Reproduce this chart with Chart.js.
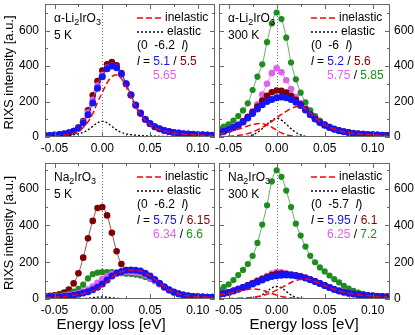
<!DOCTYPE html>
<html>
<head>
<meta charset="utf-8">
<script src="https://cdn.jsdelivr.net/npm/chart.js@4/dist/chart.umd.min.js"></script>
<style>
	body { margin: 0; background: #fff; }
	#wrap { position: relative; width: 415px; height: 335px; }
	canvas { position: absolute; left: 0; top: 0; }
</style>
</head>
<body>
<div id="wrap">
	<canvas id="tl" width="415" height="335"></canvas>
	<canvas id="tr" width="415" height="335"></canvas>
	<canvas id="bl" width="415" height="335"></canvas>
	<canvas id="br" width="415" height="335"></canvas>
</div>
<script>
// energy loss grid [eV]
const energy = [-0.06,-0.055,-0.05,-0.045,-0.04,-0.035,-0.03,-0.025,-0.02,-0.015,
	-0.01,-0.005,0,0.005,0.01,0.015,0.02,0.025,0.03,0.035,
	0.04,0.045,0.05,0.055,0.06,0.065,0.07,0.075,0.08,0.085,
	0.09,0.095,0.1,0.105,0.11,0.115];

const xTicks = [-0.05, 0, 0.05, 0.10];
const xMinorTicks = [-0.025, 0.025, 0.075];
const yTicks = [0, 200, 400, 600];
const yMinorTicks = [100, 300, 500, 700];

// alpha-Li2IrO3, 5 K
const li5K_51  = [8,9,11,14,18,24,33,50,80,125,192,275,340,385,400,390,355,300,238,180,135,100,76,58,46,37,31,26,22,19,17,15,13,12,11,10];
const li5K_55  = [8,9,11,13,17,23,34,55,90,150,235,315,375,410,422,405,360,300,235,178,132,98,74,57,45,36,30,25,21,18,16,14,13,12,11,10];
const li5K_565 = [8,9,11,14,18,24,34,52,85,138,210,290,350,390,402,392,355,300,238,180,135,100,76,58,46,37,31,26,22,19,17,15,13,12,11,10];
const li5K_el  = [4,5,6,7,8,10,13,18,26,40,60,80,88,80,60,40,26,18,13,10,8,7,6,5,4,4,3,3,3,2,2,2,2,2,2,2];
const li5K_inel = [4,4,5,7,10,14,20,32,54,85,132,195,252,305,340,350,329,282,225,170,127,93,70,53,42,33,28,23,19,17,15,13,11,10,9,8];

// alpha-Li2IrO3, 300 K
const li300K_52  = [25,32,42,53,66,85,107,132,158,182,200,212,222,226,222,212,196,177,152,126,102,82,66,53,43,35,29,24,20,17,15,13,12,11,10,9];
const li300K_56  = [25,32,42,54,68,88,112,140,172,205,232,252,262,260,250,232,210,185,156,128,104,83,67,54,44,36,30,25,21,18,16,14,12,11,10,9];
const li300K_575 = [26,33,43,55,70,90,115,145,185,240,300,360,388,365,320,270,225,190,160,130,106,85,68,55,45,37,30,25,21,18,16,14,13,12,11,10];
const li300K_585 = [47,58,72,92,118,150,190,265,340,410,535,640,702,665,560,420,325,250,195,150,118,92,73,59,48,39,32,27,23,19,17,15,13,12,11,10];
const li300K_el  = [0,0,0,0,0,1,4,12,26,47,72,95,105,95,72,47,26,12,4,1,0,0,0,0,0,0,0,0,0,0,0,0,0,0,0,0];
const li300K_stokes = [2,3,4,6,9,13,19,28,40,55,70,88,107,127,145,160,170,172,160,135,110,88,70,56,45,36,30,25,21,18,15,13,12,11,10,9];
const li300K_anti = [18,23,29,36,44,53,62,70,75,75,68,55,38,23,13,7,4,2,1,0,0,0,0,0,0,0,0,0,0,0,0,0,0,0,0,0];

// Na2IrO3, 5 K
const na5K_575 = [8,9,10,12,14,17,21,26,32,40,50,64,82,103,125,140,150,156,158,157,152,140,125,106,86,66,50,38,28,22,17,14,12,11,10,9];
const na5K_615 = [15,17,20,25,35,52,85,140,225,330,425,495,500,455,360,260,190,158,152,152,148,138,122,102,82,63,48,36,27,21,17,15,13,12,11,10];
const na5K_634 = [9,10,12,14,17,21,25,32,40,52,68,88,108,125,137,144,147,148,147,145,140,130,116,99,80,62,47,36,27,21,17,14,12,11,10,9];
const na5K_66  = [12,13,15,18,23,30,40,55,78,112,135,143,146,147,146,143,140,138,136,133,128,120,110,97,82,66,51,39,30,23,18,15,13,12,11,10];
const na5K_el  = [0,0,0,0,0,0,0,1,2,4,7,10,11,10,7,4,2,1,0,0,0,0,0,0,0,0,0,0,0,0,0,0,0,0,0,0];
const na5K_inel = [8,9,10,12,14,17,21,25,30,36,43,54,71,93,118,136,148,155,158,157,152,140,125,106,86,66,50,38,28,22,17,14,12,11,10,9];

// Na2IrO3, 300 K
const na300K_595 = [25,30,36,44,53,62,72,82,93,104,114,122,127,129,130,129,126,121,114,105,95,84,73,62,52,44,37,31,27,23,20,18,16,14,13,12];
const na300K_61  = [26,31,37,45,54,64,74,85,97,109,120,130,137,138,136,132,128,122,115,106,96,85,74,63,53,45,38,32,27,23,20,18,16,14,13,12];
const na300K_625 = [26,31,38,46,55,65,76,88,101,113,125,138,146,145,140,134,129,123,115,106,96,85,74,63,53,45,38,32,27,23,20,18,16,14,13,12];
const na300K_72  = [50,65,80,103,130,158,190,235,305,405,510,640,700,665,590,500,410,345,285,235,200,172,150,128,108,90,72,57,44,35,28,23,20,17,15,13];
const na300K_el  = [0,0,0,0,0,0,1,3,9,22,41,60,68,60,41,22,9,3,1,0,0,0,0,0,0,0,0,0,0,0,0,0,0,0,0,0];
const na300K_stokes = [2,2,3,3,4,5,7,10,13,18,26,36,48,62,76,90,101,108,110,105,95,84,73,62,52,44,37,31,27,23,20,18,16,14,13,12];
const na300K_anti = [22,26,31,37,43,48,52,54,53,48,40,30,21,14,9,6,4,3,2,1,1,0,0,0,0,0,0,0,0,0,0,0,0,0,0,0];

const BLUE = '#1414f5';
const DRED = '#800000';
const MAG = '#e060f0';
const GREEN = '#1e8c1e';
const FONT = '"Liberation Sans", Arial, sans-serif';

function points(values) {
	return energy.map((x, i) => ({ x: x, y: values[i] }));
}

function measured(values, color, r) {
	return {
		data: points(values),
		showLine: true,
		borderColor: color + 'b0',
		borderWidth: 1,
		backgroundColor: color,
		pointRadius: r,
		pointBorderWidth: 0,
		pointBackgroundColor: color,
		tension: 0.4
	};
}

function fitLine(values, kind) {
	return {
		data: points(values),
		showLine: true,
		borderColor: kind == 'inel' ? '#ff0000' : '#000000',
		borderDash: kind == 'inel' ? [6, 3] : [2, 2],
		borderWidth: kind == 'inel' ? 1.5 : 1.3,
		pointRadius: 0,
		tension: 0.4
	};
}

function sampleName(mat) {
	if (mat == 'li') return [{ t: 'α-Li' }, { t: '2', sub: true }, { t: 'IrO' }, { t: '3', sub: true }];
	return [{ t: 'Na' }, { t: '2', sub: true }, { t: 'IrO' }, { t: '3', sub: true }];
}

function drawParts(ctx, x, y, parts) {
	ctx.textAlign = 'left';
	ctx.textBaseline = 'middle';
	for (const p of parts) {
		ctx.font = (p.it ? 'italic ' : '') + (p.sub ? '9px ' : '12px ') + FONT;
		ctx.fillStyle = p.c || '#000';
		ctx.fillText(p.t, x, y + (p.sub ? 4 : 0));
		x += ctx.measureText(p.t).width;
	}
}

const panels = [
	{
		id: 'tl', area: [45, 1, 215, 137], yMax: 750, ySide: 'left',
		mat: 'li', temp: '5 K', q: '-6.2',
		row1: [['5.1', BLUE], ['5.5', DRED]], row2: [['5.65', MAG]],
		datasets: [
			fitLine(li5K_inel, 'inel'), fitLine(li5K_el, 'el'),
			measured(li5K_51, BLUE, 3.5), measured(li5K_565, MAG, 3.3), measured(li5K_55, DRED, 3.3)
		],
		yTitle: true
	},
	{
		id: 'tr', area: [219, 1, 390, 137], yMax: 750, ySide: 'right',
		mat: 'li', temp: '300 K', q: '-6',
		row1: [['5.2', BLUE], ['5.6', DRED]], row2: [['5.75', MAG], ['5.85', GREEN]],
		datasets: [
			fitLine(li300K_stokes, 'inel'), fitLine(li300K_anti, 'inel'), fitLine(li300K_el, 'el'),
			measured(li300K_52, BLUE, 3.5), measured(li300K_56, DRED, 3.3),
			measured(li300K_575, MAG, 3.3), measured(li300K_585, GREEN, 3.1)
		]
	},
	{
		id: 'bl', area: [45, 163, 215, 299], yMax: 740, ySide: 'left',
		mat: 'na', temp: '5 K', q: '-6.2',
		row1: [['5.75', BLUE], ['6.15', DRED]], row2: [['6.34', MAG], ['6.6', GREEN]],
		datasets: [
			fitLine(na5K_inel, 'inel'), fitLine(na5K_el, 'el'),
			measured(na5K_575, BLUE, 3.5), measured(na5K_634, MAG, 3.3),
			measured(na5K_66, GREEN, 3.1), measured(na5K_615, DRED, 3.3)
		],
		yTitle: true, xTitle: 111
	},
	{
		id: 'br', area: [219, 163, 390, 299], yMax: 740, ySide: 'right',
		mat: 'na', temp: '300 K', q: '-5.7',
		row1: [['5.95', BLUE], ['6.1', DRED]], row2: [['6.25', MAG], ['7.2', GREEN]],
		datasets: [
			fitLine(na300K_stokes, 'inel'), fitLine(na300K_anti, 'inel'), fitLine(na300K_el, 'el'),
			measured(na300K_595, BLUE, 3.5), measured(na300K_61, DRED, 3.3),
			measured(na300K_625, MAG, 3.3), measured(na300K_72, GREEN, 3.1)
		],
		xTitle: 304
	}
];

// frame, inner ticks, tick labels, zero line and the annotations
const decor = {
	id: 'decor',
	beforeDatasetsDraw(chart) {
		const ctx = chart.ctx, a = chart.chartArea;
		const x0 = Math.round(chart.scales.x.getPixelForValue(0)) + 0.5;
		ctx.save();
		ctx.strokeStyle = '#777';
		ctx.lineWidth = 1;
		ctx.setLineDash([1, 2]);
		ctx.beginPath();
		ctx.moveTo(x0, a.top);
		ctx.lineTo(x0, a.bottom);
		ctx.stroke();
		ctx.restore();
	},
	afterDraw(chart) {
		const p = chart.options.plugins.decor.panel;
		const ctx = chart.ctx, a = chart.chartArea;
		const xs = chart.scales.x, ys = chart.scales.y;
		ctx.save();
		ctx.strokeStyle = '#666';
		ctx.lineWidth = 1;
		ctx.strokeRect(a.left + 0.5, a.top + 0.5, a.right - a.left - 1, a.bottom - a.top - 1);
		ctx.beginPath();
		xTicks.concat(xMinorTicks).forEach((v, i) => {
			const len = i < xTicks.length ? 5 : 3;
			const px = Math.round(xs.getPixelForValue(v)) + 0.5;
			ctx.moveTo(px, a.bottom); ctx.lineTo(px, a.bottom - len);
			ctx.moveTo(px, a.top); ctx.lineTo(px, a.top + len);
		});
		yTicks.concat(yMinorTicks).forEach((v, i) => {
			const len = i < yTicks.length ? 5 : 3;
			const py = Math.round(ys.getPixelForValue(v)) + 0.5;
			ctx.moveTo(a.left, py); ctx.lineTo(a.left + len, py);
			ctx.moveTo(a.right, py); ctx.lineTo(a.right - len, py);
		});
		ctx.stroke();

		// tick labels
		ctx.fillStyle = '#000';
		ctx.font = '12px ' + FONT;
		ctx.textBaseline = 'middle';
		ctx.textAlign = 'center';
		xTicks.forEach(v => {
			ctx.fillText(v.toFixed(2), xs.getPixelForValue(v), a.bottom + 12);
		});
		ctx.textAlign = p.ySide == 'left' ? 'right' : 'left';
		const tx = p.ySide == 'left' ? a.left - 6 : a.right + 4;
		yTicks.forEach(v => {
			ctx.fillText(String(v), tx, ys.getPixelForValue(v));
		});

		// sample and temperature
		drawParts(ctx, a.left + 9, a.top + 15, sampleName(p.mat));
		drawParts(ctx, a.left + 9, a.top + 31.5, [{ t: p.temp }]);

		// legend
		const lx = a.left + 92;
		ctx.lineWidth = 1.5;
		ctx.strokeStyle = '#ff0000';
		ctx.setLineDash([6, 3]);
		ctx.beginPath(); ctx.moveTo(lx, a.top + 14); ctx.lineTo(lx + 27, a.top + 14); ctx.stroke();
		ctx.lineWidth = 1.3;
		ctx.strokeStyle = '#000';
		ctx.setLineDash([2, 2]);
		ctx.beginPath(); ctx.moveTo(lx, a.top + 28); ctx.lineTo(lx + 27, a.top + 28); ctx.stroke();
		ctx.setLineDash([]);
		drawParts(ctx, lx + 28, a.top + 14, [{ t: 'inelastic' }]);
		drawParts(ctx, lx + 30, a.top + 28, [{ t: 'elastic' }]);
		drawParts(ctx, lx, a.top + 42, [{ t: '(0  ' + p.q + '  ' }, { t: 'l', it: true }, { t: ')' }]);
		const r1 = [{ t: 'l', it: true }, { t: ' = ' }];
		p.row1.forEach((e, i) => {
			if (i > 0) r1.push({ t: ' / ' });
			r1.push({ t: e[0], c: e[1] });
		});
		drawParts(ctx, lx, a.top + 57.5, r1);
		const r2 = [];
		p.row2.forEach((e, i) => {
			if (i > 0) r2.push({ t: ' / ' });
			r2.push({ t: e[0], c: e[1] });
		});
		drawParts(ctx, a.left + 108, a.top + 71.5, r2);

		// axis titles
		ctx.fillStyle = '#000';
		if (p.yTitle) {
			ctx.save();
			ctx.translate(9, (a.top + a.bottom) / 2 + 2);
			ctx.rotate(-Math.PI / 2);
			ctx.font = '13px ' + FONT;
			ctx.textAlign = 'center';
			ctx.textBaseline = 'middle';
			ctx.fillText('RIXS intensity [a.u.]', 0, 0);
			ctx.restore();
		}
		if (p.xTitle) {
			ctx.font = '15px ' + FONT;
			ctx.textAlign = 'center';
			ctx.textBaseline = 'middle';
			ctx.fillText('Energy loss [eV]', p.xTitle, 325);
		}
		ctx.restore();
	}
};

panels.forEach(p => {
	const [L, T, R, B] = p.area;
	new Chart(document.getElementById(p.id), {
		type: 'scatter',
		data: { datasets: p.datasets },
		options: {
			responsive: false,
			animation: false,
			layout: { padding: { left: L, top: T, right: 415 - R, bottom: 335 - B } },
			plugins: {
				legend: { display: false },
				tooltip: { enabled: false },
				decor: { panel: p }
			},
			scales: {
				x: { type: 'linear', display: false, min: -0.06, max: 0.118 },
				y: { type: 'linear', display: false, min: 0, max: p.yMax }
			}
		},
		plugins: [decor]
	});
});
</script>
</body>
</html>
